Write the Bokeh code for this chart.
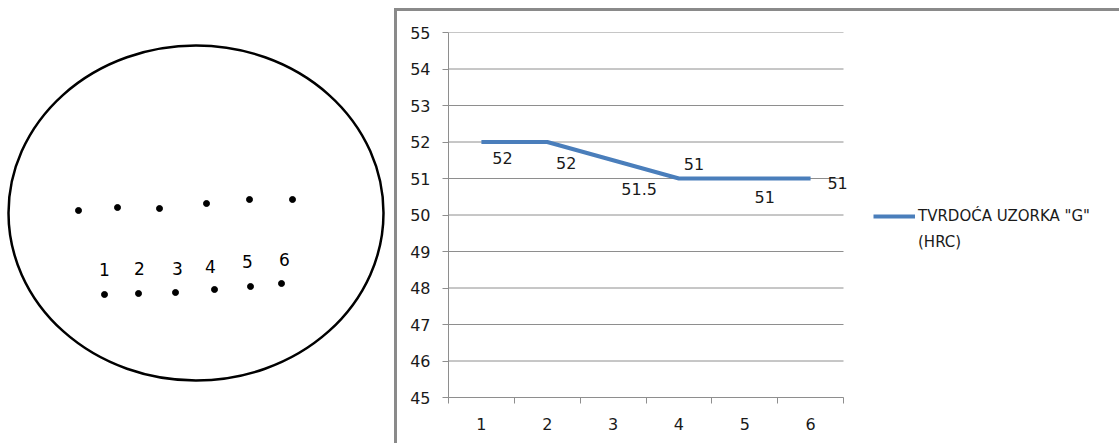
from bokeh.plotting import figure
from bokeh.models import Range1d, FixedTicker, LabelSet, ColumnDataSource, Legend, LegendItem
from bokeh.layouts import row
from bokeh.embed import file_html
from bokeh.resources import INLINE
from bokeh.core.properties import value

# ---------------- chart data ----------------
measure_points = [1, 2, 3, 4, 5, 6]
hardness = [52, 52, 51.5, 51, 51, 51]
hardness_labels = ["52", "52", "51.5", "51", "51", "51"]
y_ticks = [45, 46, 47, 48, 49, 50, 51, 52, 53, 54, 55]
series_name = 'TVRDOĆA UZORKA "G"'
series_unit = "(HRC)"

# ---------------- sketch data (specimen cross-section, sketch pixel space) ----------------
upper_row_x = [78, 117, 159, 206, 249, 292]
upper_row_y = [210, 207, 208, 203, 199, 199]
lower_row_x = [104, 138, 175, 214, 250, 281]
lower_row_y = [294, 293, 292, 289, 286, 283]
point_names = ["1", "2", "3", "4", "5", "6"]
point_name_x = [104, 139, 177, 210, 247, 284]
point_name_y = [269, 268, 268, 266, 261, 259]
specimen_center = (195.5, 212.5)
specimen_size = (375, 335)

# data-label offsets (screen px: right, down) -- layout only
label_dx = [21, 19, 26, 15, 20, 27]
label_dy = [16, 21, 29, -15, 18, 4]

FONT = "DejaVu Sans"
GRID = "#8e8e8e"
FRAME = "#8a8a8a"
BLUE = "#4a7ebb"
TXT = "#1a1a1a"

LW, H = 394, 443
FL, FT, FB = 54, 32, 46          # frame borders inside the right canvas

# ---------------- left: sketch ----------------
# frames in a row are aligned vertically, so the sketch uses the same top/bottom borders
# and a pixel-space range that maps data y to page y
s = figure(width=LW, height=H, x_range=Range1d(0, LW), y_range=Range1d(H - FB, FT),
           output_backend="svg", toolbar_location=None, title=None,
           min_border_left=0, min_border_right=0, min_border_top=FT, min_border_bottom=FB,
           x_axis_location=None, y_axis_location=None)
s.grid.visible = False
s.outline_line_color = None
s.ellipse(x=[specimen_center[0]], y=[specimen_center[1]], width=specimen_size[0],
          height=specimen_size[1], fill_color=None, line_color="black", line_width=2.5)
s.scatter(upper_row_x, upper_row_y, size=6, color="black")
s.scatter(lower_row_x, lower_row_y, size=6, color="black")
s.text(x=point_name_x, y=point_name_y, text=point_names, text_align="center",
       text_baseline="middle", text_font=value(FONT), text_font_size="17px", text_color="black")

# ---------------- right: line chart ----------------
RW = 1119 - LW
PX_PER_CAT = 395 / 6             # category slot width in px
x_end = 0.5 + (RW - FL) / PX_PER_CAT
p = figure(width=RW, height=H, x_range=Range1d(0.5, x_end), y_range=Range1d(45, 55),
           output_backend="svg", toolbar_location=None, title=None,
           min_border_left=FL, min_border_right=0, min_border_top=FT, min_border_bottom=FB)
p.styles = {
    "background-image": f"linear-gradient({FRAME},{FRAME}), linear-gradient({FRAME},{FRAME})",
    "background-size": "3px calc(100% - 8px), 100% 3px",
    "background-position": "0 8px, 0 8px",
    "background-repeat": "no-repeat",
}
p.border_fill_alpha = 0
p.background_fill_color = "white"
p.outline_line_color = None
p.grid.visible = False

bounds = [m - 0.5 for m in measure_points] + [measure_points[-1] + 0.5]

# horizontal gridlines across the category area
p.segment(x0=[bounds[0]] * len(y_ticks), x1=[bounds[-1]] * len(y_ticks), y0=y_ticks, y1=y_ticks,
          line_color=GRID, line_width=1)

p.yaxis.ticker = FixedTicker(ticks=y_ticks)
p.yaxis.axis_line_color = GRID
p.yaxis.major_tick_line_color = GRID
p.yaxis.major_tick_out = 6
p.yaxis.major_tick_in = 0
p.yaxis.minor_tick_out = 0
p.yaxis.major_label_standoff = 12
p.yaxis.major_label_text_font = FONT
p.yaxis.major_label_text_font_size = "16px"
p.yaxis.major_label_text_color = TXT

p.xaxis.ticker = FixedTicker(ticks=measure_points, minor_ticks=bounds)
p.xaxis.bounds = (bounds[0], bounds[-1])
p.xaxis.axis_line_color = GRID
p.xaxis.major_tick_out = 0
p.xaxis.major_tick_in = 0
p.xaxis.minor_tick_out = 6
p.xaxis.minor_tick_in = 0
p.xaxis.minor_tick_line_color = GRID
p.xaxis.major_label_standoff = 14
p.xaxis.major_label_text_font = FONT
p.xaxis.major_label_text_font_size = "16px"
p.xaxis.major_label_text_color = TXT

r = p.line(measure_points, hardness, line_color=BLUE, line_width=4)
ghost = p.line(measure_points, hardness, line_alpha=0)

src = ColumnDataSource(dict(x=measure_points, y=hardness, text=hardness_labels,
                            dx=label_dx, dy=[-d for d in label_dy]))
labels = LabelSet(x="x", y="y", text="text", x_offset="dx", y_offset="dy", source=src,
                  text_align="center", text_baseline="middle", text_font=value(FONT),
                  text_font_size="16px", text_color=TXT)
p.add_layout(labels)

legend = Legend(items=[LegendItem(label=series_name, renderers=[r]),
                       LegendItem(label=series_unit, renderers=[ghost])],
                location=(425, 145), padding=0, margin=0, spacing=6,
                glyph_width=42, glyph_height=20, label_height=20, label_standoff=3,
                border_line_color=None, background_fill_alpha=0,
                label_text_font=FONT, label_text_font_size="15px", label_text_color=TXT)
p.add_layout(legend, "center")

layout = row(s, p, spacing=0)
open("out.html", "w").write(file_html(layout, INLINE))
